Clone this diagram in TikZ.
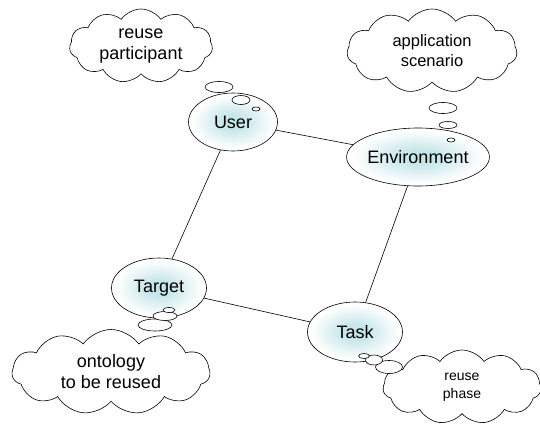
\documentclass[tikz,border=0pt]{standalone}
\usepackage{fontspec}
\setmainfont{Liberation Sans}
\usetikzlibrary{shapes,shapes.symbols,positioning}
\definecolor{corecyan}{RGB}{192,227,231}
\pgfdeclareradialshading{softcore}{\pgfpoint{0bp}{0bp}}{color(0bp)=(corecyan); color(7bp)=(corecyan!85!white); color(23bp)=(white); color(50bp)=(white)}

\begin{document}
\begin{tikzpicture}[x=1pt, y=-1pt, line width=0.6pt,
    role-node/.style={ellipse, draw=black, inner sep=0pt, shading=softcore,
                font=\fontsize{18}{21}\selectfont},
    thought-node/.style={cloud, draw=black, fill=white, cloud puffs=11, cloud puff arc=110, cloud ignores aspect,
                inner sep=0pt, align=center, font=\fontsize{18}{21}\selectfont},
    bubble/.style={ellipse, draw=black, fill=white, inner sep=0pt}]
    \useasboundingbox (0,0) rectangle (540,423);
    \node[role-node, minimum width=89pt, minimum height=58pt] (user) at (233,122) {User};
    \node[role-node, minimum width=142pt, minimum height=58pt] (env) at (418,157) {Environment};
    \node[role-node, minimum width=95pt, minimum height=60pt] (target) at (159,288) {Target};
    \node[role-node, minimum width=95pt, minimum height=60pt] (task) at (355,332) {Task};
    \draw (user) -- (env);
    \draw (user) -- (target);
    \draw (env) -- (task);
    \draw (target) -- (task);
    \node[thought-node, minimum width=143pt, minimum height=74pt] (participant) at (141,46) {reuse\\ participant};
    \node[thought-node, minimum width=170pt, minimum height=84pt, font=\fontsize{16.5}{20}\selectfont] (scenario) at (432,51) {application\\ scenario};
    \node[thought-node, minimum width=198pt, minimum height=85pt] (ontology) at (111,372) {ontology\\ to be reused};
    \node[thought-node, minimum width=158pt, minimum height=74pt, font=\fontsize{14}{18}\selectfont] (phase) at (462,387) {reuse\\ phase};
    \node[bubble, minimum width=28pt, minimum height=11pt] (ub1) at (219,87) {};
    \node[bubble, minimum width=18pt, minimum height=9pt] (ub2) at (241,100) {};
    \node[bubble, minimum width=8pt, minimum height=4pt] (ub3) at (256,109) {};
    \node[bubble, minimum width=28pt, minimum height=11pt] (eb1) at (443,108) {};
    \node[bubble, minimum width=18pt, minimum height=7pt] (eb2) at (448,125) {};
    \node[bubble, minimum width=8pt, minimum height=4pt] (eb3) at (451,140) {};
    \node[bubble, minimum width=34pt, minimum height=12pt] (tb1) at (155,325) {};
    \node[bubble, minimum width=24pt, minimum height=9pt] (tb2) at (165,316) {};
    \node[bubble, minimum width=12pt, minimum height=5pt] (tb3) at (169,310) {};
    \node[bubble, minimum width=27pt, minimum height=13pt] (kb1) at (389,367) {};
    \node[bubble, minimum width=17pt, minimum height=10pt] (kb2) at (374,360) {};
    \node[bubble, minimum width=11pt, minimum height=5pt] (kb3) at (364,356) {};
\end{tikzpicture}
\end{document}
